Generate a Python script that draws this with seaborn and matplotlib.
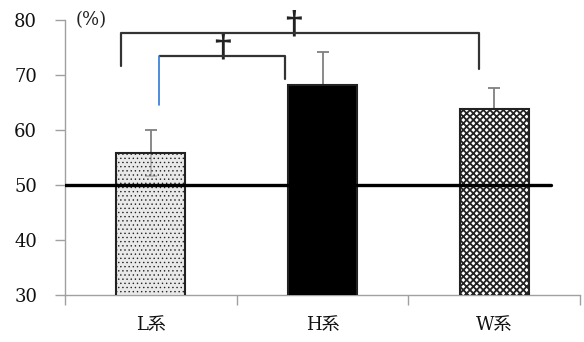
import matplotlib
matplotlib.use('Agg')
import matplotlib.pyplot as plt
import seaborn as sns
import pandas as pd

# datos
categorias = ['L系', 'H系', 'W系']
medias = [55.8, 68.2, 63.8]
desvios = [4.2, 6.0, 3.9]
linea_ref = 50

# corchetes de significancia: (x_izq, x_der, y_top, y_pata_izq, y_pata_der)
corchete_ext = (-0.175, 1.91, 77.6, 71.6, 71.1)
corchete_int = (0.047, 0.78, 73.5, 64.5, 69.3)
x_daga = [0.83, 0.42]

sns.set_style('white')
plt.rcParams['font.family'] = ['DejaVu Serif', 'Noto Sans CJK JP']
plt.rcParams['hatch.linewidth'] = 1.3

df = pd.DataFrame({'grupo': categorias, 'valor': medias})

fig = plt.figure(figsize=(5.84, 3.42), dpi=100)
ax = fig.add_axes([65 / 584, 1 - 295 / 342, 515 / 584, 275 / 342])

sns.barplot(data=df, x='grupo', y='valor', width=0.4, ax=ax, color='white', zorder=3)

# estilos de cada barra
rellenos = [(0.86, 0.86, 0.86, 0.6), 'black', 'white']
tramas = ['....', None, 'xxxxx']
grosor_trama = [0.5, 1.3, 1.3]
for barra, fc, tr, gt in zip(ax.patches, rellenos, tramas, grosor_trama):
    barra.set_facecolor(fc)
    barra.set_edgecolor('#222222')
    barra.set_linewidth(1.5)
    if tr:
        barra.set_hatch(tr)
        try:
            barra.set_hatch_linewidth(gt)
        except AttributeError:
            pass

# barras de error (detrás de las barras)
ax.errorbar(range(len(categorias)), medias, yerr=desvios, fmt='none',
            ecolor='#808080', elinewidth=1.3, capsize=4.5, capthick=1.3, zorder=2)

# línea del 50%
ax.axhline(linea_ref, xmin=0, xmax=0.944, color='black', lw=2.4, zorder=5)

# corchetes
def corchete(c, color_izq='#333333'):
    x0, x1, yt, yl, yr = c
    ax.plot([x0, x1], [yt, yt], color='#333333', lw=1.6, zorder=6, clip_on=False,
            solid_capstyle='butt')
    ax.plot([x0, x0], [yl, yt], color=color_izq, lw=1.6 if color_izq == '#333333' else 1.2,
            zorder=6, clip_on=False)
    ax.plot([x1, x1], [yr, yt], color='#333333', lw=1.6, zorder=6, clip_on=False)

corchete(corchete_ext)
corchete(corchete_int, color_izq='#2f78d8')

for xd, c in zip(x_daga, [corchete_ext, corchete_int]):
    ax.text(xd, c[2] - 1.2, '†', fontsize=23, fontweight='bold',
            family='DejaVu Serif', ha='center', va='bottom', color='#222222', clip_on=False)

ax.text(0.02, 80, '(%)', fontsize=13, color='#222222', va='center', ha='left',
        transform=ax.get_yaxis_transform(), clip_on=False)

# ejes
ax.set_ylim(30, 80)
ax.set_xlim(-0.5, 2.5)
ax.set_yticks([30, 40, 50, 60, 70, 80])
ax.set_xticks([-0.5, 0.5, 1.5, 2.5])
ax.set_xticklabels([])
ax.set_xticks([0, 1, 2], minor=True)
ax.set_xticklabels(categorias, minor=True)
ax.tick_params(axis='x', which='major', length=7, width=1, color='#a0a0a0', direction='out', bottom=True)
ax.tick_params(axis='x', which='minor', length=0, pad=15, labelsize=13, labelcolor='#111111')
ax.tick_params(axis='y', length=7, width=1, color='#a0a0a0', direction='out', left=True,
               pad=13, labelsize=13, labelcolor='#111111')
ax.set_xlabel('')
ax.set_ylabel('')
for lado in ['top', 'right']:
    ax.spines[lado].set_visible(False)
for lado in ['left', 'bottom']:
    ax.spines[lado].set_color('#a0a0a0')
    ax.spines[lado].set_linewidth(1)

fig.savefig('out.png', dpi=100)
